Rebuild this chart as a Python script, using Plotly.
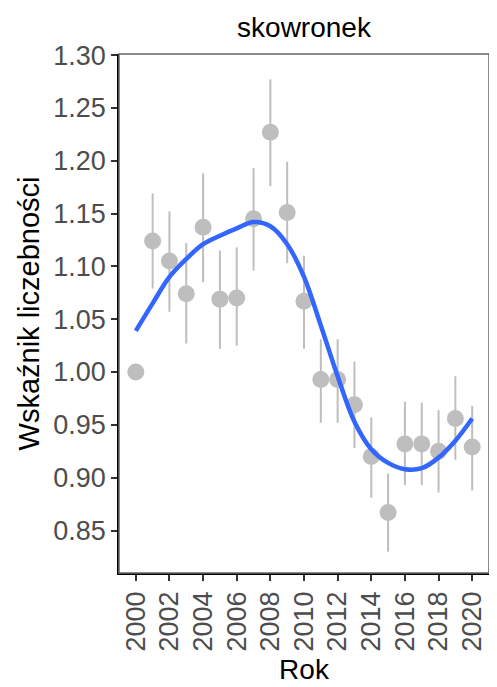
import plotly.graph_objects as go

years = list(range(2000, 2021))
index_vals = [1.000, 1.124, 1.105, 1.074, 1.137, 1.069, 1.070, 1.145, 1.227, 1.151, 1.067,
              0.993, 0.993, 0.969, 0.920, 0.867, 0.932, 0.932, 0.925, 0.956, 0.929]
upper_vals = [1.000, 1.169, 1.152, 1.122, 1.188, 1.115, 1.118, 1.193, 1.277, 1.199, 1.110,
              1.031, 1.031, 1.010, 0.957, 0.904, 0.972, 0.971, 0.964, 0.996, 0.968]
lower_vals = [1.000, 1.079, 1.057, 1.027, 1.085, 1.022, 1.025, 1.096, 1.176, 1.103, 1.022,
              0.952, 0.952, 0.928, 0.881, 0.830, 0.893, 0.893, 0.886, 0.917, 0.888]
trend_vals = [1.039, 1.065, 1.090, 1.107, 1.121, 1.129, 1.136, 1.142, 1.138, 1.121, 1.090,
              1.044, 0.996, 0.953, 0.927, 0.914, 0.908, 0.909, 0.919, 0.935, 0.956]
x_ticks = list(range(2000, 2021, 2))
y_ticks = [0.85, 0.90, 0.95, 1.00, 1.05, 1.10, 1.15, 1.20, 1.25, 1.30]

err_plus = [u - v for u, v in zip(upper_vals, index_vals)]
err_minus = [v - l for v, l in zip(index_vals, lower_vals)]

fig = go.Figure()
fig.add_trace(go.Scatter(
    x=years, y=index_vals, mode="markers",
    marker=dict(color="#BEBEBE", size=17, line=dict(width=0)),
    error_y=dict(type="data", array=err_plus, arrayminus=err_minus,
                 color="#BEBEBE", thickness=2, width=0),
    showlegend=False, hoverinfo="x+y"))
fig.add_trace(go.Scatter(
    x=years, y=trend_vals, mode="lines", line=dict(color="#3366FF", width=4.5, shape="spline"),
    showlegend=False))

# page body has an 8px default margin; figure is sized so the page matches 497x687
W, H = 489, 679
font_family = "Liberation Sans, Arial, sans-serif"
fig.update_layout(
    width=W, height=H,
    margin=dict(l=111, r=8, t=46, b=114),
    paper_bgcolor="white", plot_bgcolor="white",
    font=dict(family=font_family),
    title=dict(text="skowronek", x=(111 + (W - 8)) / 2 / W, xanchor="center",
               y=1 - 19 / H, yanchor="middle",
               font=dict(size=28, color="black", family=font_family)),
    shapes=[dict(type="rect", xref="paper", yref="paper", x0=0, x1=1, y0=0, y1=1,
                 line=dict(color="#666666", width=1.5), fillcolor="rgba(0,0,0,0)", layer="above")],
)
fig.update_xaxes(
    range=[1999, 2021], tickvals=x_ticks, ticktext=[str(t) for t in x_ticks],
    tickangle=-90, ticks="outside", ticklen=6, tickwidth=1.5, tickcolor="#333333",
    showline=True, linecolor="black", linewidth=1.5, showgrid=False, zeroline=False,
    tickfont=dict(size=27, color="#4D4D4D"),
    title=dict(text="Rok", font=dict(size=28, color="black"), standoff=9))
fig.update_yaxes(
    range=[0.8098, 1.301], tickvals=y_ticks, ticktext=[f"{t:.2f}" for t in y_ticks],
    ticks="outside", ticklen=6, tickwidth=1.5, tickcolor="#333333",
    showline=True, linecolor="black", linewidth=1.5, showgrid=False, zeroline=False,
    tickfont=dict(size=27, color="#4D4D4D"),
    title=dict(text="Wskaźnik liczebności", font=dict(size=29, color="black"), standoff=5))

fig.write_html("out.html")
